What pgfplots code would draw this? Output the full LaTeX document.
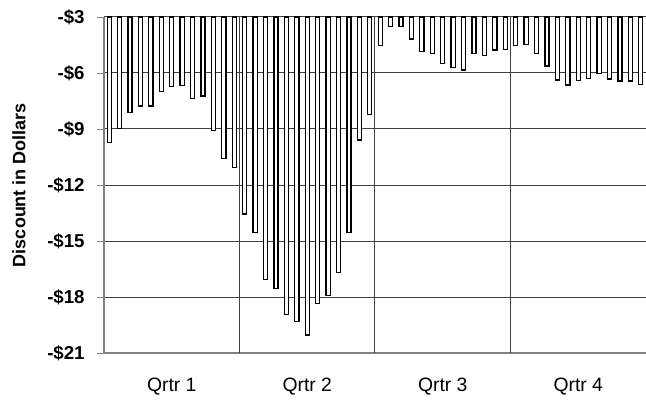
\documentclass[border=0pt]{standalone}
\usepackage{fontspec}
\setmainfont{Liberation Sans}
\usepackage{pgfplots}
\pgfplotsset{compat=1.18}
\usepackage{pgfplotstable}

% weekly discount, 13 weeks per quarter
\pgfplotstableread{
wk val
0 -9.73
1 -8.96
2 -8.11
3 -7.77
4 -7.77
5 -7.00
6 -6.73
7 -6.68
8 -7.36
9 -7.23
10 -9.10
11 -10.57
12 -11.07
13 -13.55
14 -14.55
15 -17.05
16 -17.53
17 -18.93
18 -19.32
19 -20.03
20 -18.34
21 -17.93
22 -16.69
23 -14.55
24 -9.59
25 -8.21
26 -4.54
27 -3.52
28 -3.52
29 -4.18
30 -4.86
31 -4.96
32 -5.48
33 -5.71
34 -5.84
35 -4.95
36 -5.05
37 -4.77
38 -4.73
39 -4.54
40 -4.48
41 -4.96
42 -5.62
43 -6.38
44 -6.64
45 -6.41
46 -6.29
47 -6.02
48 -6.32
49 -6.43
50 -6.43
51 -6.61
}\weeks

\begin{document}
\begin{tikzpicture}
\path[use as bounding box] (-78pt,-40.5pt) rectangle (406.5pt,264.75pt);
\begin{axis}[
  scale only axis,
  width=406.5pt, height=252pt,
  xmin=-0.5, xmax=51.5,
  ymin=-21, ymax=-3,
  axis lines=left,
  axis line style={-, gray, line width=0.8pt},
  ytick={-21,-18,-15,-12,-9,-6,-3},
  yticklabels={-\$21,-\$18,-\$15,-\$12,-\$9,-\$6,-\$3},
  yticklabel style={font=\fontsize{14}{16}\selectfont\bfseries, xshift=-6pt},
  ytick style={gray, line width=0.6pt},
  tick align=outside,
  major tick length=5pt,
  xtick={6,19,32,45},
  xticklabels={Qrtr 1,Qrtr 2,Qrtr 3,Qrtr 4},
  xtick style={draw=none},
  xticklabel style={font=\fontsize{14.5}{17}\selectfont, yshift=-10pt},
  extra x ticks={12.5,25.5,38.5},
  extra x tick labels={},
  extra x tick style={grid=major, xtick style={draw=none}},
  ymajorgrids=true,
  grid style={black!75, line width=0.75pt},
  ylabel={Discount in Dollars},
  ylabel style={font=\fontsize{13.5}{15}\selectfont\bfseries, at={(axis description cs:0,0.5)}, anchor=center, yshift=63.75pt},
  ybar, bar width=3.1pt,
]
\addplot[draw=black, fill=white, line width=0.95pt] table[x=wk, y=val] {\weeks};
\end{axis}
\end{tikzpicture}
\end{document}
